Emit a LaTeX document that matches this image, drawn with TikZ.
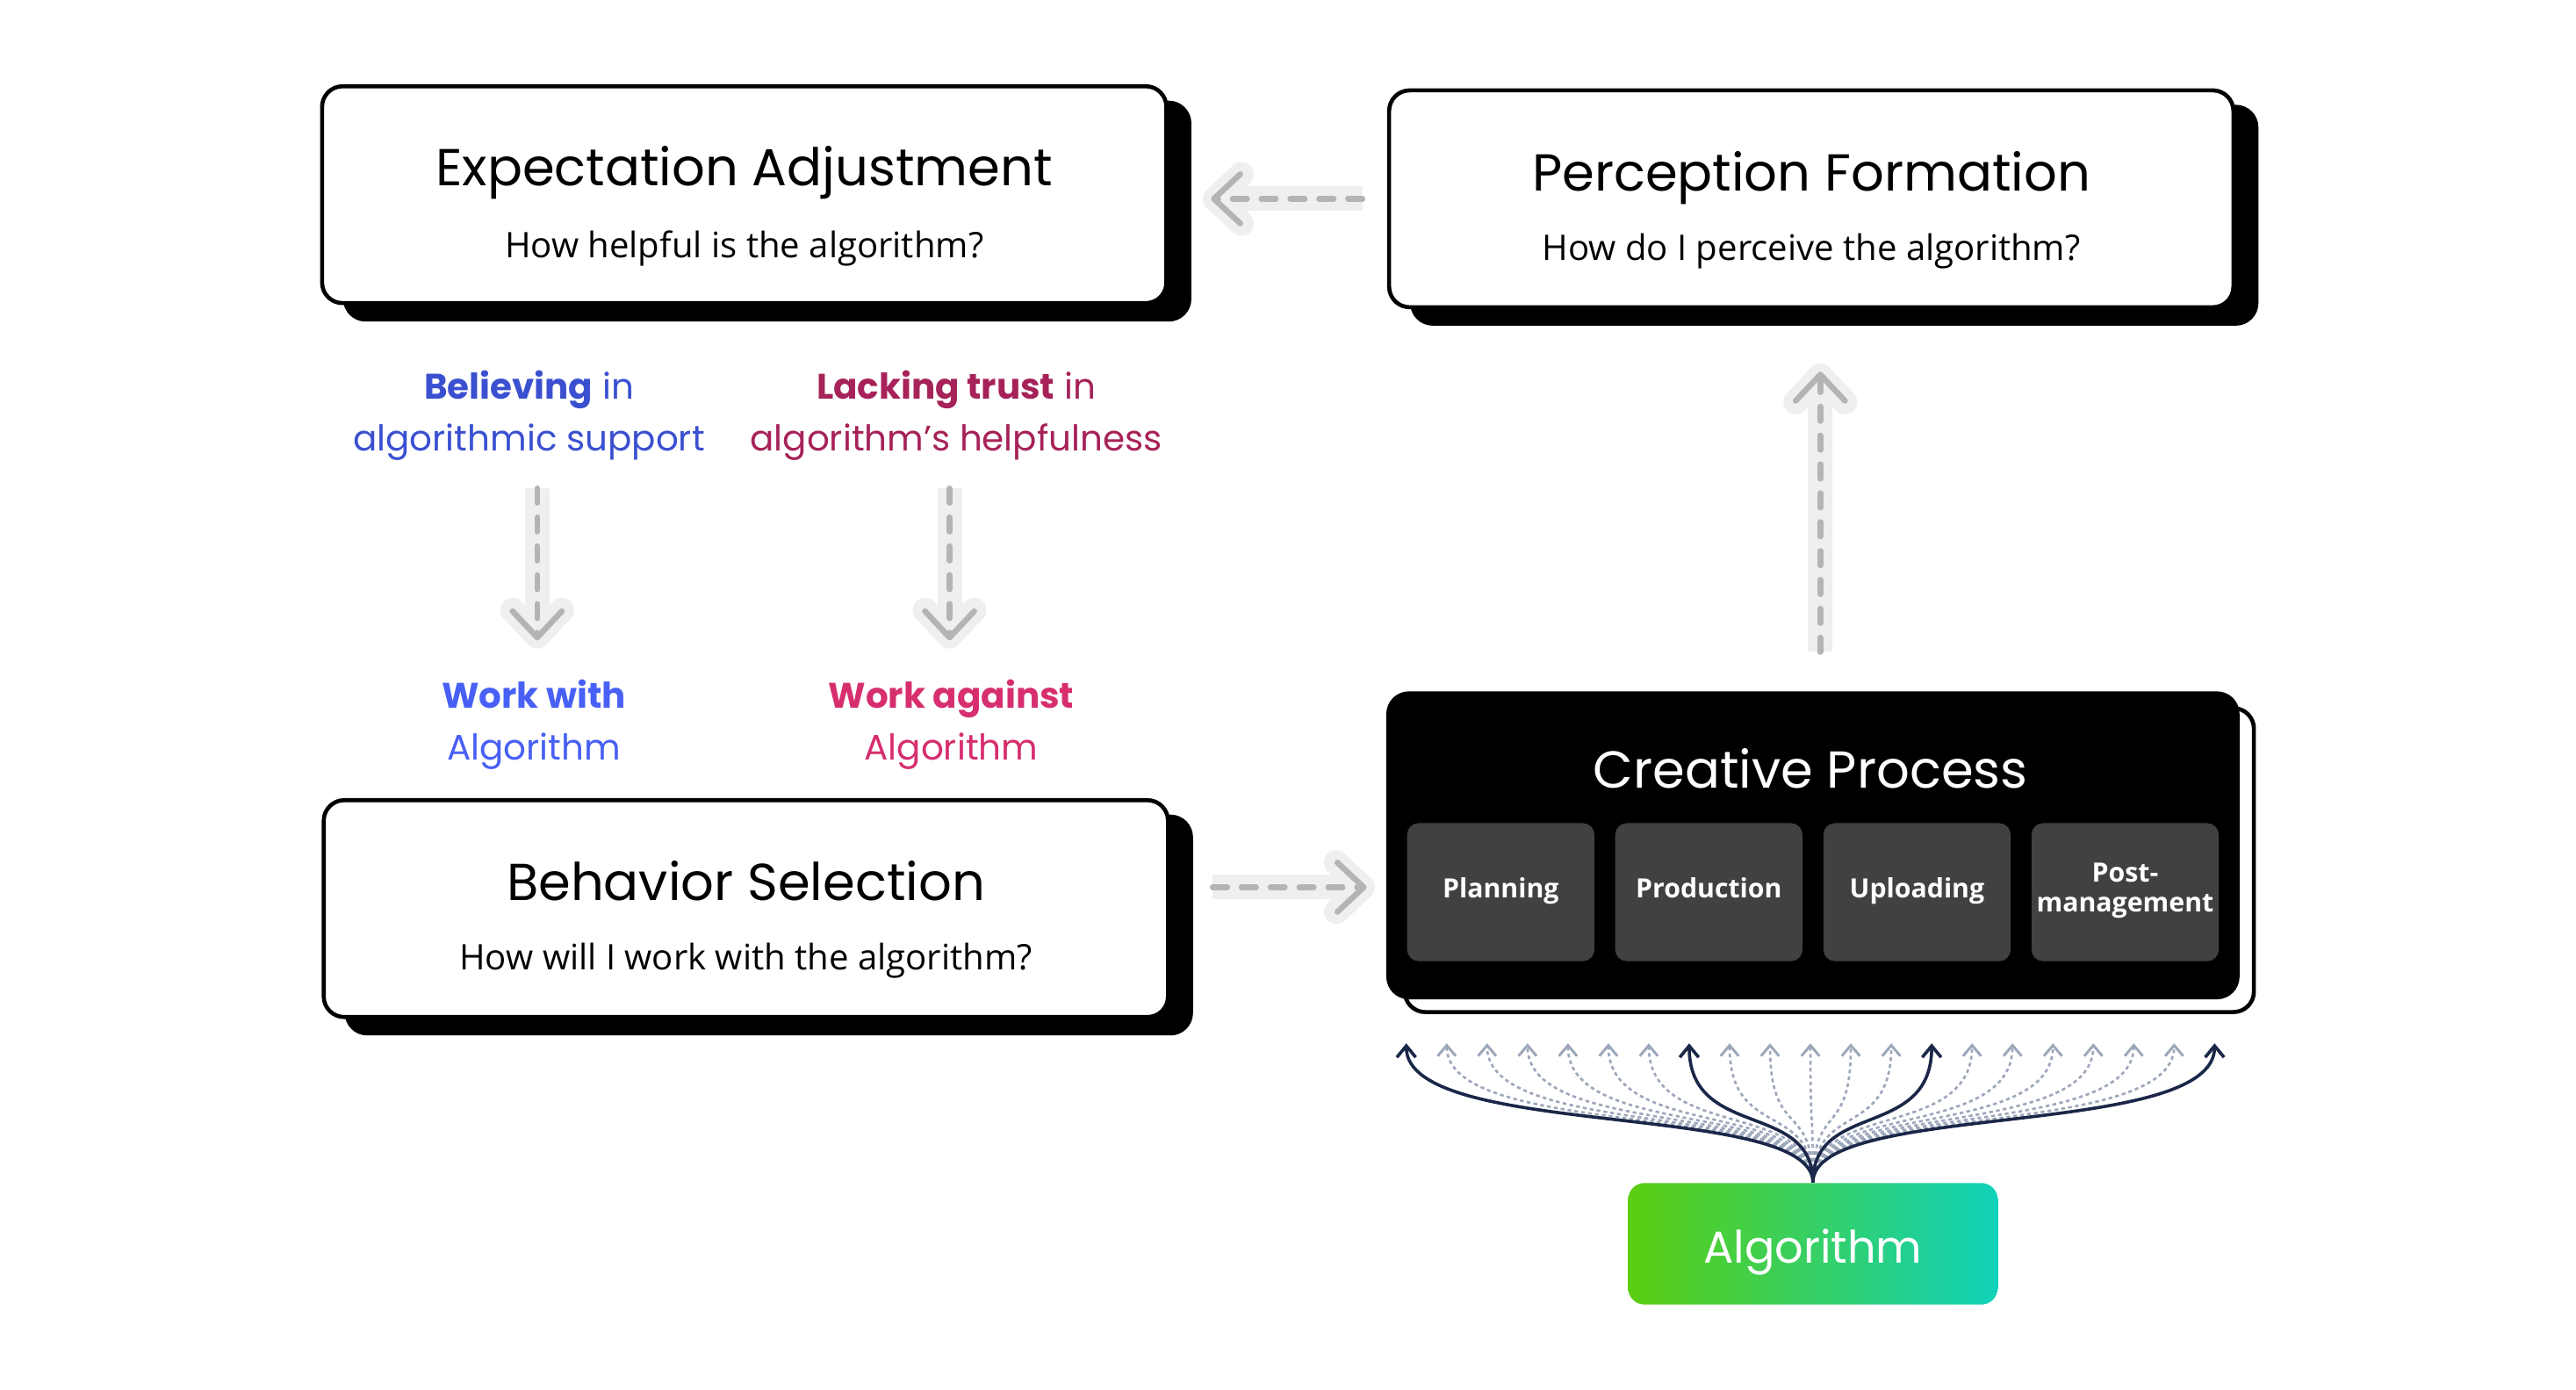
\documentclass[tikz,border=0pt]{standalone}
\usepackage{fontspec}
\setmainfont{Open Sans}
\newfontfamily\headfont{Poppins}
\usetikzlibrary{arrows.meta,positioning,shadows,calc}

\definecolor{believeblue}{RGB}{58,80,208}
\definecolor{withblue}{RGB}{72,96,245}
\definecolor{lackred}{RGB}{166,34,88}
\definecolor{againstpink}{RGB}{214,46,110}
\definecolor{flowgray}{RGB}{180,180,180}
\definecolor{halogray}{RGB}{239,239,239}
\definecolor{stepgray}{RGB}{65,65,65}
\definecolor{fanlight}{RGB}{156,167,186}
\definecolor{fandark}{RGB}{27,39,72}
\definecolor{algleft}{RGB}{92,206,16}
\definecolor{algright}{RGB}{16,209,186}

\newcommand{\cardhead}[1]{{\rule{0pt}{21.5pt}\headfont\fontsize{18}{22}\selectfont #1}}

\begin{document}
\begin{tikzpicture}[x=0.02cm, y=-0.02cm]
    \tikzset{card/.style= {draw, fill=white, line width=1.4pt
    , rounded corners=0.25cm
    , minimum width=10.28cm, minimum height=2.64cm
    , align=center, font=\fontsize{12.2}{14}\selectfont
    , drop shadow={shadow xshift=0.28cm, shadow yshift=-0.2cm, fill=black, draw=black, opacity=1}
      },
    darkcard/.style= {draw, fill=black, line width=1.4pt
    , rounded corners=0.25cm
    , minimum width=10.34cm, minimum height=3.7cm
    , drop shadow={shadow xshift=0.2cm, shadow yshift=-0.18cm, fill=white, draw=black, opacity=1}
      },
    stepbox/.style= {fill=stepgray, rounded corners=0.14cm
    , minimum width=2.28cm, minimum height=1.68cm, inner sep=0.04cm
    , text=white, align=center, font=\bfseries\fontsize{9.2}{10.5}\selectfont
    , execute at begin node=\strut
      },
    algbox/.style= {left color=algleft, right color=algright, rounded corners=0.2cm
    , minimum width=4.5cm, minimum height=1.48cm
    , text height=13.3pt, text depth=0pt
    , text=white, font=\headfont\fontsize{15.5}{18}\selectfont
      },
    notetext/.style={font=\headfont\fontsize{12.3}{18}\selectfont, align=center, inner sep=2pt},
    cardtitle/.style={font=\headfont\fontsize{18}{22}\selectfont},
    flow/.style={draw=flowgray, line width=2pt, dash pattern=on 5pt off 5pt, line cap=round
    , -{Straight Barb[length=0.32cm, width=0.6cm, line width=2pt, round, sep=0.1cm]}
    , preaction={draw=halogray, solid, line width=0.3cm
      , -{Straight Barb[length=0.32cm, width=0.6cm, line width=0.3cm, round]}}
      },
    fanline/.style={draw=fanlight, line width=0.8pt, dash pattern=on 1.3pt off 1.1pt
    , -{Straight Barb[length=0.13cm, width=0.22cm, line width=0.9pt]}},
    fanmain/.style={draw=fandark, line width=1.1pt
    , -{Straight Barb[length=0.14cm, width=0.23cm, line width=1.1pt]}}
    }
\useasboundingbox (0,0) rectangle (1568,845.5);

% the four stages
\node [card] (EA) at (453,118.5) {\cardhead{Expectation Adjustment}\\[10pt]How helpful is the algorithm?};
\node [card] (PF) at (1102.5,121) {\cardhead{Perception Formation}\\[10pt]How do I perceive the algorithm?};
\node [card] (BS) at (454,553) {\cardhead{Behavior Selection}\\[10pt]How will I work with the algorithm?};
\node [darkcard] (CP) at (1103.5,514.5) {};
\node [cardtitle, text=white] (cptitle) at (1102,468) {Creative Process};

\node [stepbox] (plan) at (913.5,543) {Planning};
\node [stepbox, right=0.24cm of plan] (prod) {Production};
\node [stepbox, right=0.24cm of prod] (upload) {Uploading};
\node [stepbox, right=0.24cm of upload] (post) {Post-\\management};

% beliefs and behaviours
\node [notetext, text=believeblue] (believe) at (322,253) {{\bfseries Believing} in\\algorithmic support};
\node [notetext, text=lackred] (lack) at (582,253) {{\bfseries Lacking trust} in\\algorithm’s helpfulness};
\node [notetext, text=withblue] (with) at (325,441) {{\bfseries Work with}\\Algorithm};
\node [notetext, text=againstpink] (against) at (579,441) {{\bfseries Work against}\\Algorithm};

\node [algbox] (alg) at (1103.5,757) {Algorithm};

 \path[flow, shorten <=0.3cm, shorten >=0.42cm] (PF.west) -- (PF.west -| EA.east);
 \path[flow, shorten <=0.52cm, shorten >=0.14cm] (BS.east |- 0,540) -- (CP.west |- 0,540);
 \path[flow, shorten <=0.48cm, shorten >=0.66cm] (CP.north -| 1108,0) -- (PF.south -| 1108,0);
 \path[flow, shorten <=0.26cm, shorten >=0.3cm] (believe.south -| 327,0) -- (with.north -| 327,0);
 \path[flow, shorten <=0.26cm, shorten >=0.3cm] (lack.south -| 578,0) -- (against.north -| 578,0);

% algorithm fans out over the creative process
\foreach \i in {0,...,20}
  \coordinate (tip\i) at (856+\i*24.6,635);
\foreach \i in {1,2,3,4,5,6,8,9,10,11,12,14,15,16,17,18,19}
  \draw[fanline] (alg.north) .. controls +(0,-50) and +(0,59) .. (tip\i);
\foreach \i in {0,7,13,20}
  \draw[fanmain] (alg.north) .. controls +(0,-50) and +(0,59) .. (tip\i);
\end{tikzpicture}
\end{document}
